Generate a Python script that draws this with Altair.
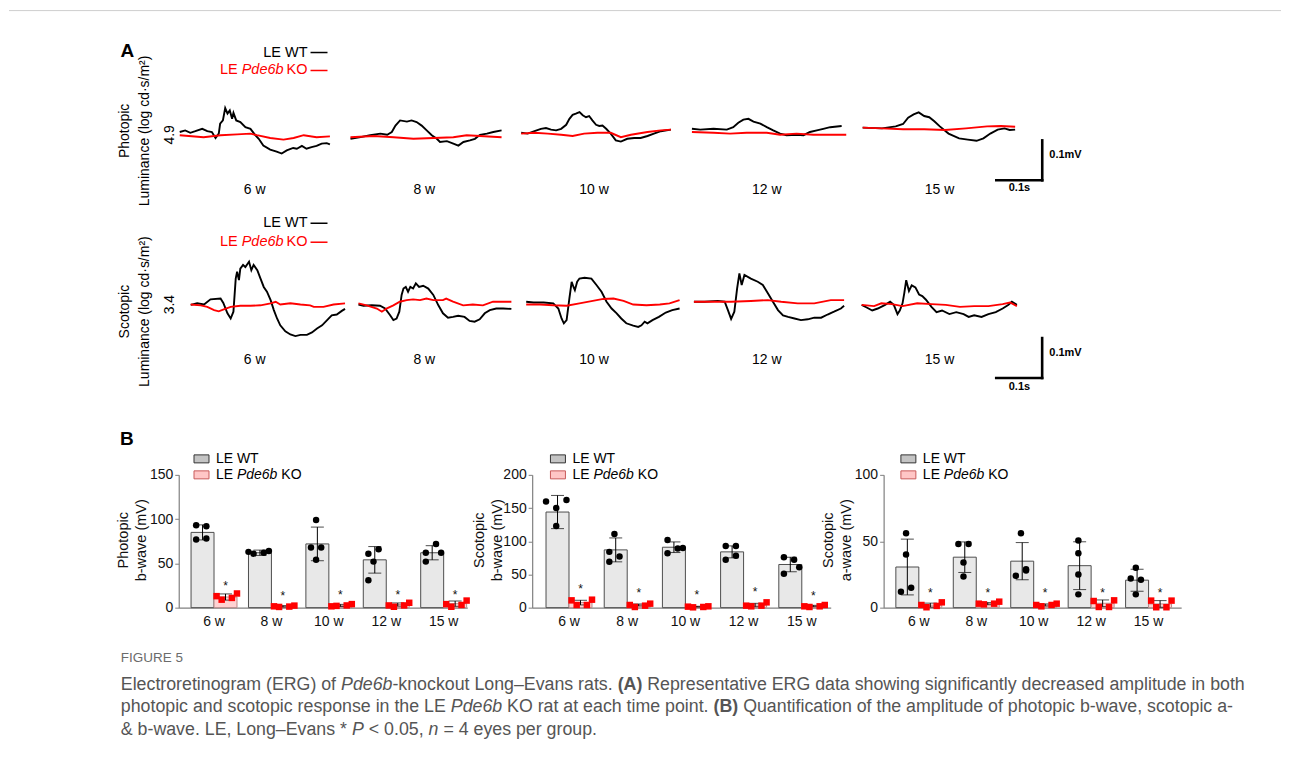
import altair as alt
import pandas as pd

FONT = "Liberation Sans"
RED = "#ff0000"
AX = "#808080"
AGES = ["6 w", "8 w", "10 w", "12 w", "15 w"]
GROUPS = ["WT", "KO"]

# ---------------- Panel A: representative ERG traces (time ms, amplitude uV) ----------------
# Photopic 4.9 log cd.s/m2
P6_WT_T = [0, 12, 23, 34, 49, 60, 70, 78, 85, 88, 94, 99, 104, 109, 114, 117, 123, 132, 143, 154, 164, 172, 182, 197, 211, 222, 233, 247, 255, 266, 276, 287, 298, 309, 320, 327]
P6_WT_V = [6, 10, 4, 8, 14, 8, 6, -9, 2, 27, 35, 66, 52, 60, 39, 54, 35, 31, 18, 14, -1, -11, -28, -38, -43, -48, -40, -34, -36, -29, -36, -32, -29, -23, -22, -25]
P6_KO_T = [0, 52, 89, 125, 154, 168, 197, 226, 248, 270, 298, 327]
P6_KO_V = [-2, -7, -2, 0, 2, -2, -9, -13, -9, -2, -7, -5]
P8_WT_T = [0, 22, 43, 65, 80, 90, 98, 108, 123, 133, 144, 155, 166, 177, 188, 195, 210, 224, 235, 246, 260, 271, 282, 297, 311, 329]
P8_WT_V = [-11, -7, -2, 2, -1, 6, 22, 35, 32, 35, 31, 22, 10, -2, -11, -19, -17, -23, -28, -19, -15, -11, -1, 2, 6, 10]
P8_KO_T = [0, 51, 94, 137, 181, 224, 253, 282, 329]
P8_KO_V = [-7, -4, -7, -11, -9, -7, -2, -4, -7]
P10_WT_T = [0, 14, 29, 43, 54, 65, 76, 87, 98, 105, 112, 119, 127, 134, 141, 148, 155, 163, 170, 177, 185, 195, 206, 217, 231, 246, 260, 275, 289, 304, 326]
P10_WT_V = [4, 2, 8, 14, 16, 12, 10, 14, 24, 39, 49, 52, 56, 48, 43, 46, 35, 24, 21, 22, 14, 2, -15, -18, -11, -9, -9, -4, 2, 8, 12]
P10_KO_T = [0, 29, 58, 87, 112, 137, 166, 195, 217, 239, 275, 304, 326]
P10_KO_V = [2, 4, 2, -1, -4, 2, 4, 4, -7, -1, 6, 10, 12]
P12_WT_T = [0, 18, 47, 76, 90, 101, 112, 123, 134, 149, 163, 177, 192, 206, 228, 243, 257, 272, 286, 301, 326]
P12_WT_V = [14, 12, 14, 12, 18, 29, 37, 39, 32, 27, 18, 10, 2, -2, -1, -2, 6, 10, 14, 18, 21]
P12_KO_T = [0, 47, 83, 119, 163, 192, 228, 264, 301, 336]
P12_KO_V = [6, 4, 2, 4, 4, -1, 2, -1, -1, -1]
P15_WT_T = [0, 42, 72, 88, 99, 111, 122, 134, 145, 156, 168, 187, 210, 229, 248, 263, 278, 294, 309, 320, 332]
P15_WT_V = [17, 15, 20, 26, 42, 50, 55, 46, 43, 33, 20, 2, -10, -13, -16, -10, 2, 12, 15, 11, 12]
P15_KO_T = [0, 42, 88, 134, 179, 225, 271, 301, 332]
P15_KO_V = [17, 15, 13, 13, 11, 15, 20, 21, 19]

# Scotopic 3.4 log cd.s/m2
S6_WT_T = [0, 14, 29, 43, 65, 71, 80, 87, 93, 98, 101, 105, 108, 114, 119, 127, 132, 137, 145, 152, 159, 166, 174, 181, 188, 195, 206, 217, 228, 239, 253, 264, 275, 286, 297, 307, 318, 329, 336]
S6_WT_V = [-2, 2, -1, 12, 14, 3, -23, -36, -19, 64, 81, 60, 89, 98, 93, 106, 85, 98, 85, 64, 43, 31, 10, -15, -36, -53, -68, -76, -80, -77, -77, -71, -61, -53, -40, -28, -26, -17, -12]
S6_KO_T = [0, 22, 36, 51, 61, 72, 87, 108, 130, 152, 174, 185, 195, 217, 239, 260, 268, 289, 311, 336]
S6_KO_V = [-1, -3, -7, -15, -18, -13, -7, -4, -4, -3, 2, 6, -1, 2, -1, -3, -7, -7, -1, 2]
S8_WT_T = [0, 11, 29, 47, 58, 69, 76, 83, 89, 94, 98, 103, 108, 113, 119, 125, 132, 141, 152, 163, 174, 184, 195, 206, 217, 231, 242, 253, 264, 275, 286, 300, 315, 333]
S8_WT_V = [-1, -4, -3, -4, -11, -28, -40, -36, -19, 23, 39, 43, 31, 43, 39, 52, 43, 46, 39, 23, -3, -23, -34, -32, -29, -32, -42, -44, -38, -23, -15, -11, -11, -12]
S8_KO_T = [0, 18, 40, 51, 61, 76, 90, 105, 119, 134, 148, 163, 184, 191, 206, 228, 249, 271, 293, 315, 333]
S8_KO_V = [2, -3, -11, -19, -11, -3, 6, 10, 12, 10, 14, 10, 10, 14, 6, -3, -1, -3, 6, 6, 6]
S10_WT_T = [0, 16, 38, 59, 70, 77, 82, 88, 94, 99, 103, 106, 111, 116, 127, 142, 153, 164, 175, 186, 197, 207, 218, 233, 244, 251, 258, 264, 275, 289, 304, 318, 334]
S10_WT_V = [6, 4, 4, 2, -11, -36, -48, -40, 14, 56, 43, 35, 56, 64, 66, 64, 48, 31, 6, -11, -23, -36, -48, -54, -57, -53, -44, -48, -40, -32, -21, -15, -11]
S10_KO_T = [0, 30, 59, 88, 116, 145, 168, 190, 212, 233, 262, 291, 312, 334]
S10_KO_V = [-1, -1, -3, -4, 2, 8, 13, 14, 8, -1, -3, -1, 2, 10]
S12_WT_T = [0, 23, 52, 67, 74, 81, 88, 94, 99, 104, 110, 124, 139, 150, 161, 172, 183, 194, 205, 219, 233, 248, 262, 277, 291, 305, 320, 327]
S12_WT_V = [6, 6, 8, 6, -15, -37, -19, 39, 77, 48, 73, 64, 56, 48, 27, 6, -15, -28, -32, -36, -40, -38, -34, -34, -26, -19, -11, -4]
S12_KO_T = [0, 38, 81, 124, 161, 190, 226, 262, 298, 327]
S12_KO_V = [6, 6, 6, 8, 10, 6, 2, 2, 10, 10]
S15_WT_T = [0, 12, 23, 35, 51, 62, 70, 78, 83, 89, 93, 97, 103, 109, 117, 125, 132, 140, 152, 163, 175, 191, 206, 222, 233, 245, 261, 276, 292, 307, 319, 327, 338]
S15_WT_V = [-2, -9, -16, -11, -2, 6, -2, -25, -16, 2, 29, 60, 33, 47, 42, 24, 20, 11, -7, -20, -16, -25, -20, -25, -32, -28, -32, -25, -20, -11, -2, 6, -2]
S15_KO_T = [0, 27, 43, 66, 89, 121, 152, 183, 214, 245, 276, 307, 323, 338]
S15_KO_V = [-2, -5, 2, 0, -5, 2, 0, -2, -7, -5, -5, 0, 4, -5]

PHOT = [(P6_WT_T, P6_WT_V, P6_KO_T, P6_KO_V), (P8_WT_T, P8_WT_V, P8_KO_T, P8_KO_V),
        (P10_WT_T, P10_WT_V, P10_KO_T, P10_KO_V), (P12_WT_T, P12_WT_V, P12_KO_T, P12_KO_V),
        (P15_WT_T, P15_WT_V, P15_KO_T, P15_KO_V)]
SCOT = [(S6_WT_T, S6_WT_V, S6_KO_T, S6_KO_V), (S8_WT_T, S8_WT_V, S8_KO_T, S8_KO_V),
        (S10_WT_T, S10_WT_V, S10_KO_T, S10_KO_V), (S12_WT_T, S12_WT_V, S12_KO_T, S12_KO_V),
        (S15_WT_T, S15_WT_V, S15_KO_T, S15_KO_V)]
SCALE_T = 100   # 0.1 s
SCALE_V = 100   # 0.1 mV

# ---------------- Panel B: quantification ----------------
PB_WT_MEAN = [85, 62, 72, 54, 62]
PB_WT_SD = [8.5, 3, 19, 15, 8]
PB_KO_MEAN = [12, 1.5, 2.5, 3.5, 4.5]
PB_KO_SD = [3.5, 0.8, 1.2, 1.8, 3]
PB_WT_PTS = [93, 92, 77, 78, 63, 61, 62, 64, 99, 68, 68, 54, 61, 66, 52, 31, 72, 62, 62, 52]
PB_WT_COL = [-1, 1, -1, 1, -2, -1, 1, 2, 0, -1, 1, 0, -1, 1, 0, -1, 1, -1, 2, -1]
PB_KO_PTS = [13, 9, 11, 16, 1.5, 0.8, 1.2, 2.3, 1.5, 2, 2.5, 4, 2.5, 1, 2.5, 5.5, 4, 1, 3, 8]
PB_STAR = [24, 13, 14, 14, 14]

SB_WT_MEAN = [144, 87, 91, 84, 65]
SB_WT_SD = [25, 18, 8, 9, 11]
SB_KO_MEAN = [7.6, 4, 1.5, 4, 2.5]
SB_KO_SD = [3.5, 1.5, 0.6, 2.5, 1]
SB_WT_PTS = [160, 150, 162, 123, 111, 84, 69, 77, 102, 82, 89, 90, 93, 93, 72, 78, 76, 72, 61, 51]
SB_WT_COL = [-2, 0, 2, 0, 0, -1, -1, 1, -1, -1, 1, 2, -1, 1, -1, 1, -1, 1, 2, -1]
SB_KO_PTS = [11, 4, 4, 12, 4, 1, 3, 6, 1.5, 0.5, 1, 2, 3, 2, 3, 8, 2, 1, 2, 4]
SB_STAR = [28, 22, 19, 23, 18]

SA_WT_MEAN = [30.6, 38, 35, 31.6, 20.7]
SA_WT_SD = [21, 11.5, 14, 18, 8.3]
SA_KO_MEAN = [1.9, 3, 2, 3.3, 2.8]
SA_KO_SD = [1.5, 0.8, 0.8, 2.5, 2.5]
SA_WT_PTS = [56, 40, 12, 15, 48, 48, 34, 23.5, 56, 29, 24, 28, 50.5, 41, 25, 10, 30, 22, 21, 10]
SA_WT_COL = [0, 0, -1, 1, -1, 1, 0, 0, 0, 1, -1, 1, 0, 0, 0, 0, 0, -1, 1, 0]
SA_KO_PTS = [2, 0.3, 1.3, 4, 3, 2.5, 3, 4.5, 2, 1, 2, 3, 5, 0.5, 0.5, 5.5, 5.3, 0.3, 0.3, 5.3]
SA_STAR = [11, 11, 11, 11, 11]

KO_COL = [-2, -1, 1, 2, -2, -1, 1, 2, -2, -1, 1, 2, -2, -1, 1, 2, -2, -1, 1, 2]
SLOTS = [f"{g}{c}" for g in GROUPS for c in (-2, -1, 0, 1, 2)]

CAPTION_LINES = [
    [("Electroretinogram (ERG) of", "normal", "normal"), ("Pde6b", "italic", "normal"),
     ("-knockout Long\u2013Evans rats.", "normal", "normal"), ("(A)", "normal", "bold"),
     ("Representative ERG data showing significantly decreased amplitude in both", "normal", "normal")],
    [("photopic and scotopic response in the LE", "normal", "normal"), ("Pde6b", "italic", "normal"),
     ("KO rat at each time point.", "normal", "normal"), ("(B)", "normal", "bold"),
     ("Quantification of the amplitude of photopic b-wave, scotopic a-", "normal", "normal")],
    [("& b-wave. LE, Long\u2013Evans *", "normal", "normal"), ("P", "italic", "normal"),
     ("< 0.05,", "normal", "normal"), ("n", "italic", "normal"), ("= 4 eyes per group.", "normal", "normal")],
]
CAP_FS = 17.8
# segment starts, in em from the line start (Arial/Liberation metrics)
CAPTION_EM = [[0, 12.392, 15.283, 27.956, 29.622], [0, 18.566, 21.735, 33.352, 35.018],
              [0, 13.007, 13.952, 17.316, 18.150]]

# ---------------- layout helpers ----------------
PX_PER_MS = 0.46
PX_PER_UV = 0.4


def one():
    return pd.DataFrame({"k": [0]})


def txt(text, x, y, size=14, color="#000", align="left", weight="normal", style="normal", baseline="middle"):
    return alt.Chart(one()).mark_text(text=text, font=FONT, fontSize=size, color=color, align=align,
                                      baseline=baseline, fontWeight=weight, fontStyle=style).encode(
        x=alt.value(x), y=alt.value(y))


def hrule(x1, x2, y, color, width=1.0):
    return alt.Chart(one()).mark_rule(color=color, strokeWidth=width).encode(
        x=alt.value(x1), x2=alt.value(x2), y=alt.value(y))


def ghost(x1, x2, y1, y2):
    # invisible box that fixes the extent of a row
    return alt.Chart(one()).mark_rect(fill="white", fillOpacity=0, strokeOpacity=0).encode(
        x=alt.value(x1), x2=alt.value(x2), y=alt.value(y1), y2=alt.value(y2))


def spacer(w, h, extra=None):
    base = alt.Chart(pd.DataFrame({"s": [""]})).mark_text().encode(text="s:N")
    if extra:
        base = alt.layer(base, *extra)
    return base.properties(width=w, height=h)


ROWCFG = [
    dict(base=96, h=160, w=171, title="Photopic", lab="4.9", pad=3, tx=-48, ty=92,
         labx=[75, 74, 73, 75, 77], laby=152, leg=dict(xr=128, y1=14, y2=32, lx=58, px=104),
         sb=(291, -115), mv=(187, 117), s=(157, 150)),
    dict(base=92, h=213, w=168, title="Scotopic", lab="3.4", pad=14, tx=-59, ty=99,
         labx=[64, 66, 68, 73, 78], laby=148, leg=dict(xr=117, y1=11, y2=30, lx=47, px=93),
         sb=(293, -185), mv=(188, 141), s=(158, 175)),
]


def y_axis_a(c):
    return alt.Axis(values=[0], labelExpr=f"'{c['lab']}'", domain=False, ticks=False, tickSize=0, grid=False,
                    labelAngle=270, labelAlign="center", labelBaseline="bottom", labelPadding=c["pad"],
                    labelFont=FONT, labelFontSize=14, labelColor="#000",
                    title=[c["title"], "Luminance (log cd\u00b7s/m\u00b2)"], titleFont=FONT, titleFontSize=14,
                    titleFontWeight="normal", titleColor="#000", titleAngle=270, titleAlign="center",
                    titleBaseline="bottom", titleX=c["tx"], titleY=c["ty"], titleLineHeight=20)


def trace_panel(row, k):
    c = ROWCFG[row]
    width, height = c["w"], c["h"]
    tw, vw, tk, vk = (PHOT if row == 0 else SCOT)[k]
    xs = alt.Scale(domain=[0, width / PX_PER_MS], nice=False, zero=False)
    top = c["base"] / PX_PER_UV
    ys = alt.Scale(domain=[top - height / PX_PER_UV, top], nice=False, zero=False)
    yax = y_axis_a(c) if k == 0 else None
    X = alt.X("t:Q", scale=xs, axis=None)
    Y = alt.Y("v:Q", scale=ys, axis=yax)
    wt = alt.Chart(pd.DataFrame({"t": tw, "v": vw})).mark_line(color="#000", strokeWidth=1.9).encode(x=X, y=Y)
    ko = alt.Chart(pd.DataFrame({"t": tk, "v": vk})).mark_line(color=RED, strokeWidth=1.9).encode(x=X, y=Y)
    layers = [wt, ko, txt(AGES[k], c["labx"][k], c["laby"], size=14, align="center")]
    if k == 0:
        L = c["leg"]
        layers += [
            txt("LE WT", L["xr"], L["y1"], size=14.5, align="right"),
            hrule(L["xr"] + 3, L["xr"] + 20, L["y1"], "#000", 1.5),
            txt("LE", L["lx"], L["y2"], size=14.5, align="right", color=RED),
            txt("Pde6b", L["px"], L["y2"], size=14.5, align="right", color=RED, style="italic"),
            txt("KO", L["xr"], L["y2"], size=14.5, align="right", color=RED),
            hrule(L["xr"] + 3, L["xr"] + 20, L["y2"], RED, 1.5),
        ]
    if k == 4:
        x0, y0 = c["sb"]
        bar_df = pd.DataFrame({"t": [x0, x0 + SCALE_T], "t2": [x0 + SCALE_T, x0 + SCALE_T],
                               "v": [y0, y0], "v2": [y0, y0 + SCALE_V]})
        layers.append(alt.Chart(bar_df).mark_rule(color="#000", strokeWidth=2.6, strokeCap="square").encode(
            x=alt.X("t:Q", scale=xs, axis=None), x2="t2:Q",
            y=alt.Y("v:Q", scale=ys, axis=None), y2="v2:Q"))
        layers += [txt("0.1mV", c["mv"][0], c["mv"][1], size=11, weight="bold"),
                   txt("0.1s", c["s"][0], c["s"][1], size=11, weight="bold", align="center")]
    return alt.layer(*layers).properties(width=width, height=height)


WT_FILL, WT_STROKE = "#e8e8e8", "#4d4d4d"
KO_FILL, KO_STROKE = "#ffd2d2", "#b98a8a"


def bar_panel(wt_mean, wt_sd, ko_mean, ko_sd, wt_pts, wt_col, ko_pts, stars, ydom, yvals, title,
              width, pi, po, align, tx, lx):
    height = 133
    bars = pd.DataFrame({"age": AGES + AGES, "grp": ["WT"] * 5 + ["KO"] * 5,
                         "mean": wt_mean + ko_mean, "sd": wt_sd + ko_sd})
    bars["lo"] = (bars["mean"] - bars["sd"]).clip(lower=0)
    bars["hi"] = bars["mean"] + bars["sd"]
    ages4 = [a for a in AGES for _ in range(4)]
    pts = pd.DataFrame({"age": ages4 + ages4, "grp": ["WT"] * 20 + ["KO"] * 20,
                        "slot": [f"WT{c}" for c in wt_col] + [f"KO{c}" for c in KO_COL],
                        "val": wt_pts + ko_pts})
    st = pd.DataFrame({"age": AGES, "grp": ["KO"] * 5, "val": stars})

    xs = alt.Scale(domain=AGES, paddingInner=pi, paddingOuter=po, align=align)
    X = alt.X("age:N", scale=xs, axis=alt.Axis(title=None, labelAngle=0, ticks=False, tickSize=0,
                                               domainColor=AX, domainWidth=1.2, labelPadding=7,
                                               labelFont=FONT, labelFontSize=14, labelColor="#111"))
    ys = alt.Scale(domain=ydom, nice=False, zero=True)
    yax = alt.Axis(values=yvals, grid=False, domainColor=AX, domainWidth=1.2, tickColor=AX, tickSize=4,
                   labelPadding=2, labelFont=FONT, labelFontSize=14, labelColor="#111",
                   title=title, titleFont=FONT, titleFontSize=14.5, titleFontWeight="normal", titleColor="#111",
                   titleAngle=270, titleAlign="center", titleBaseline="bottom", titleX=tx, titleY=65,
                   titleLineHeight=18)
    XO = alt.XOffset("grp:N", scale=alt.Scale(domain=GROUPS, paddingInner=0, paddingOuter=0))
    grp_fill = alt.Fill("grp:N", scale=alt.Scale(domain=GROUPS, range=[WT_FILL, KO_FILL]), legend=None)
    grp_stroke = alt.Stroke("grp:N", scale=alt.Scale(domain=GROUPS, range=[WT_STROKE, KO_STROKE]), legend=None)

    b = alt.Chart(bars).mark_bar(strokeWidth=1).encode(
        x=X, xOffset=XO, y=alt.Y("mean:Q", scale=ys, axis=yax), fill=grp_fill, stroke=grp_stroke)
    err = alt.Chart(bars).mark_rule(color="#000", strokeWidth=1).encode(
        x=X, xOffset=XO, y=alt.Y("lo:Q", scale=ys, axis=yax), y2="hi:Q")
    cap_hi = alt.Chart(bars).mark_tick(color="#000", thickness=1, size=13).encode(
        x=X, xOffset=XO, y=alt.Y("hi:Q", scale=ys, axis=yax))
    cap_lo = alt.Chart(bars).mark_tick(color="#000", thickness=1, size=13).encode(
        x=X, xOffset=XO, y=alt.Y("lo:Q", scale=ys, axis=yax))
    p = alt.Chart(pts).mark_point(filled=True, size=42, opacity=1).encode(
        x=X, xOffset=alt.XOffset("slot:N", scale=alt.Scale(domain=SLOTS, paddingInner=0, paddingOuter=0)),
        y=alt.Y("val:Q", scale=ys, axis=yax),
        shape=alt.Shape("grp:N", scale=alt.Scale(domain=GROUPS, range=["circle", "square"]), legend=None),
        color=alt.Color("grp:N", scale=alt.Scale(domain=GROUPS, range=["#000", RED]), legend=None))
    s = alt.Chart(st).mark_text(text="*", font=FONT, fontSize=12, color="#111", baseline="middle",
                                dx=-11.5).encode(
        x=X, xOffset=XO, y=alt.Y("val:Q", scale=ys, axis=yax))

    leg = [
        alt.Chart(one()).mark_rect(fill="#c4c4c4", stroke="#333", strokeWidth=1).encode(
            x=alt.value(lx), x2=alt.value(lx + 15), y=alt.value(-20), y2=alt.value(-12)),
        alt.Chart(one()).mark_rect(fill="#ffc6c6", stroke="#c85a5a", strokeWidth=1).encode(
            x=alt.value(lx), x2=alt.value(lx + 15), y=alt.value(-4), y2=alt.value(4)),
        txt("LE WT", lx + 22, -16, size=14),
        txt("LE", lx + 22, 0.5, size=14),
        txt("Pde6b", lx + 43, 0.5, size=14, style="italic"),
        txt("KO", lx + 87.5, 0.5, size=14),
    ]
    return alt.layer(b, err, cap_hi, cap_lo, p, s, *leg).resolve_scale(xOffset="independent").properties(
        width=width, height=height)


# ---------------- assemble ----------------
band0 = spacer(1274, 30, [alt.Chart(one()).mark_rule(color="#cfcfcf", strokeWidth=1).encode(
    x=alt.value(0), x2=alt.value(1274), y=alt.value(2))])

L1 = spacer(171, 174, [ghost(0, 171, 0, 174), txt("A", 118.5, 12, size=19, weight="bold", align="center")])
rowA1 = alt.hconcat(L1, *[trace_panel(0, k) for k in range(5)], spacing=0, bounds="flush")

L2 = spacer(182, 213, [ghost(0, 182, 0, 213)])
rowA2 = alt.hconcat(L2, *[trace_panel(1, k) for k in range(5)], spacing=0, bounds="flush")

spB = spacer(169.7, 133, [ghost(0, 169.7, -50, 165), txt("B", 118, -36, size=19, weight="bold", align="center")])
c1 = bar_panel(PB_WT_MEAN, PB_WT_SD, PB_KO_MEAN, PB_KO_SD, PB_WT_PTS, PB_WT_COL, PB_KO_PTS, PB_STAR,
               [0, 150], [0, 50, 100, 150], ["Photopic", "b-wave (mV)"], 289, 0.2, 0.113, 0.95, -48, 15.3)
c2 = bar_panel(SB_WT_MEAN, SB_WT_SD, SB_KO_MEAN, SB_KO_SD, SB_WT_PTS, SB_WT_COL, SB_KO_PTS, SB_STAR,
               [0, 200], [0, 50, 100, 150, 200], ["Scotopic", "b-wave (mV)"], 299, 0.21, 0.17, 0.7, -45.5, 18.3)
c3 = bar_panel(SA_WT_MEAN, SA_WT_SD, SA_KO_MEAN, SA_KO_SD, SA_WT_PTS, SA_WT_COL, SA_KO_PTS, SA_STAR,
               [0, 100], [0, 50, 100], ["Scotopic", "a-wave (mV)"], 298, 0.2, 0.19, 0.56, -48.5, 17.3)
rowB = alt.hconcat(spB, c1, spacer(64.3, 133), c2, spacer(52.7, 133), c3, spacing=0, bounds="flush")

cap_layers = [ghost(0, 1274, 0, 117), txt("FIGURE 5", 112, 18, size=13.5, color="#6b6b6b")]
for li, (segs, ems) in enumerate(zip(CAPTION_LINES, CAPTION_EM)):
    for (t, style, weight), em in zip(segs, ems):
        cap_layers.append(txt(t, 112 + em * CAP_FS, 45 + 23 * li, size=CAP_FS, color="#555555",
                              style=style, weight=weight))
cap = spacer(1274, 117, cap_layers)

chart = alt.vconcat(band0, rowA1, rowA2, rowB, cap, spacing=0).properties(
    padding=0, background="white").configure_view(stroke=None)

chart.save("out.html", embed_options={"renderer": "svg", "actions": False})
